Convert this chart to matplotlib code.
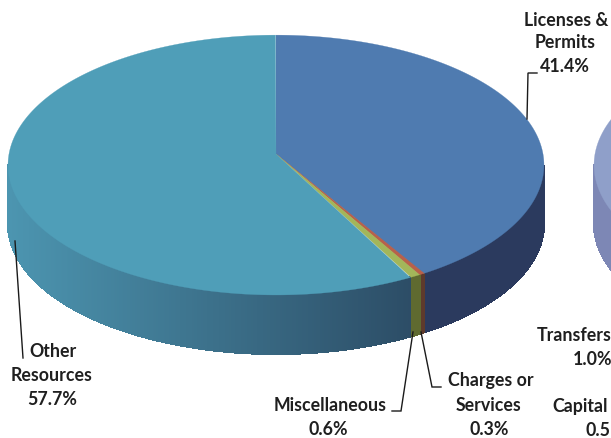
import numpy as np
import matplotlib
matplotlib.use('Agg')
import matplotlib.pyplot as plt

# slices go clockwise from the top of the pie
labels = ['Licenses & Permits', 'Charges or Services', 'Miscellaneous', 'Other Resources']
shares = [41.4, 0.3, 0.6, 57.7]
top_colors = ['#4f7bb0', '#b8604a', '#a3b65a', '#4f9eb8']
side_left = ['#2b3a5e', '#5e3a2c', '#5f6a30', '#4c95b0']
side_right = ['#2b3a5e', '#5e3a2c', '#5f6a30', '#2b4a63']

# the second pie is mostly cut off by the picture edge
other_shares = [100.0]
other_top = ['#8f9fc9']
other_left = ['#7d87b5']
other_right = ['#7d87b5']

plt.rcParams['font.family'] = ['Lato', 'DejaVu Sans']

fig = plt.figure(figsize=(6.11, 4.39), dpi=100)
ax = fig.add_axes([0, 0, 1, 1])
ax.set_xlim(0, 611)
ax.set_ylim(439, 0)
ax.axis('off')

RX = 267.0
RY = 129.0
K = 0.085
DEPTH = 59
CY = 155.0


def project(cx, angle):
    # angle in degrees clockwise from the top, slight perspective
    a = np.radians(angle)
    u = np.sin(a)
    v = np.cos(a)
    w = 1 + K * v
    return cx + RX * u / w, CY - RY * v / w


def draw_pie(cx, values, tops, lefts, rights):
    stops = np.cumsum([0] + list(values)) * 3.6
    xmin, xmax = cx - 268, cx + 268
    # side first, only the front part shows
    for i in range(len(values)):
        angles = np.arange(stops[i], stops[i + 1] + 0.2, 0.4)
        c0 = np.array(matplotlib.colors.to_rgb(lefts[i]))
        c1 = np.array(matplotlib.colors.to_rgb(rights[i]))
        for a0, a1 in zip(angles[:-1], angles[1:]):
            if np.cos(np.radians(a0)) > -K:
                continue
            x0, y0 = project(cx, a0)
            x1, y1 = project(cx, a1)
            f = np.clip((min(x0, x1) - xmin) / (xmax - xmin) / 0.78, 0, 1)
            col = c0 + (c1 - c0) * f
            ax.fill([x0, x1, x1, x0], [y0, y1, y1 + DEPTH, y0 + DEPTH],
                    color=col, lw=0.8, antialiased=False, zorder=1)
    for i in range(len(values)):
        angles = np.arange(stops[i], stops[i + 1] + 0.2, 0.4)
        xs, ys = project(cx, angles)
        ax.fill(np.r_[cx, xs], np.r_[CY, ys], color=tops[i], lw=0.2, zorder=2)


draw_pie(276, shares, top_colors, side_left, side_right)
draw_pie(862, other_shares, other_top, other_left, other_right)

# leader lines
line_style = dict(color='#1a1a1a', lw=1.0, zorder=3, solid_joinstyle='miter')
ax.plot([527, 528, 537], [120, 74, 74], **line_style)
ax.plot([15, 23], [242, 359], **line_style)
ax.plot([413, 401, 392], [333, 412, 412], **line_style)
ax.plot([421, 432, 441], [333, 388, 388], **line_style)

text_style = dict(fontsize=12.8, color='#1f1f1f', va='center', fontweight='bold', zorder=4)
for x, y, s in [(566, 20, 'Licenses &'), (565, 43, 'Permits'), (565, 67, '41.4%'),
                (53, 352, 'Other'), (52, 376, 'Resources'), (52, 400, '57.7%'),
                (491, 381, 'Charges or'), (489, 406, 'Services'), (489, 430, '0.3%'),
                (330, 406, 'Miscellaneous'), (328, 430, '0.6%')]:
    ax.text(x, y, s, ha='center', **text_style)

# these run up to the right edge of the picture
for x, y, s in [(537, 336, 'Transfers'), (573, 360, '1.0%'),
                (552, 407, 'Capital'), (586, 431, '0.5')]:
    ax.text(x, y, s, ha='left', **text_style)

fig.savefig('out.png', dpi=100)
